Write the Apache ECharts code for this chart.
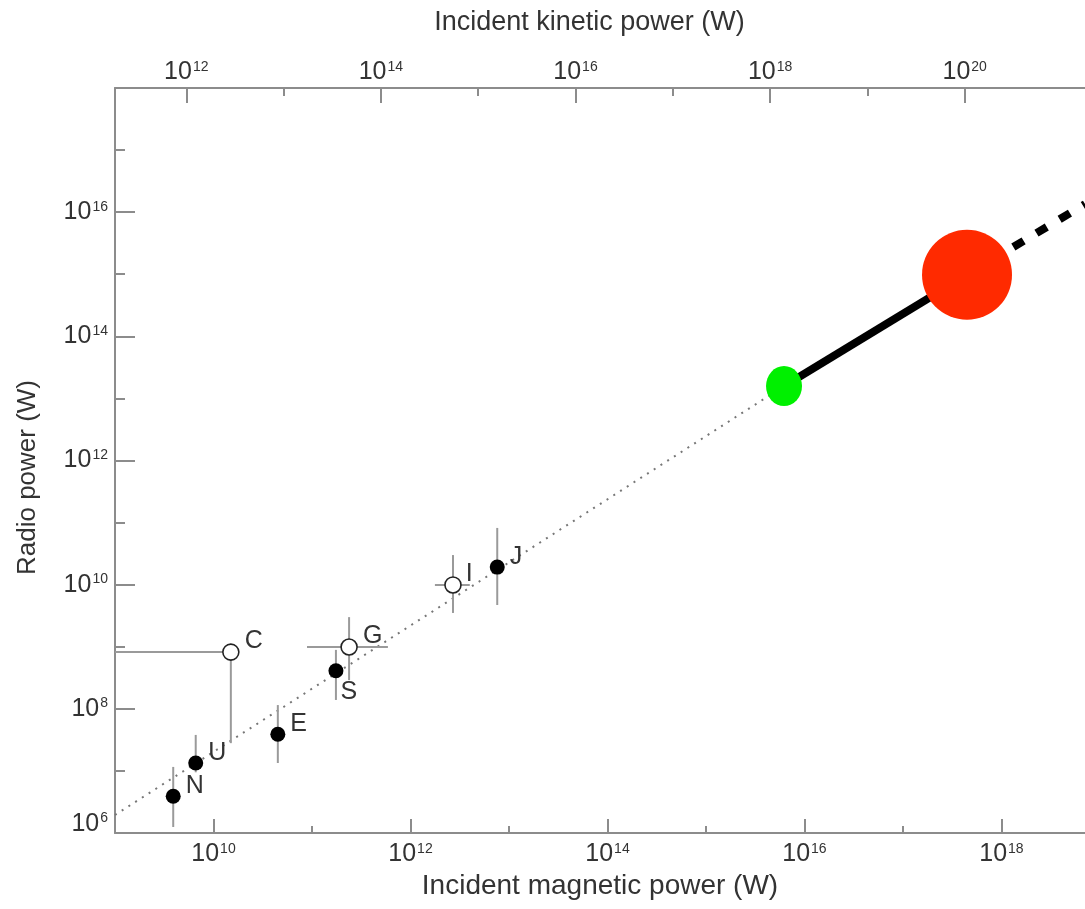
<!DOCTYPE html>
<html>
<head>
<meta charset="utf-8">
<title>Radio-magnetic Bode's law</title>
<script src="https://cdn.jsdelivr.net/npm/echarts@6/dist/echarts.min.js"></script>
<style>
  html, body { margin: 0; padding: 0; background: #fff; }
  #chart { width: 1085px; height: 909px; }
</style>
</head>
<body>
<div id="chart"></div>
<script>
// planets (filled dots): incident magnetic power vs radio power, in W
var planetNames = ['N', 'U', 'E', 'S', 'J'];
var planetMag = [3.9e9, 6.6e9, 4.5e10, 1.75e11, 7.6e12];
var planetRadio = [3.9e6, 1.34e7, 3.9e7, 4.1e8, 1.92e10];
var planetRadioLo = [1.25e6, 9.5e6, 1.34e7, 1.39e8, 4.7e9];
var planetRadioHi = [1.16e7, 3.8e7, 1.15e8, 8.9e8, 8.2e10];

// satellite-magnetosphere systems (open dots)
var moonNames = ['C', 'G', 'I'];
var moonMag = [1.5e10, 2.38e11, 2.7e12];
var moonMagLo = [1e9, 8.9e10, 1.77e12];
var moonMagHi = [1.5e10, 5.9e11, 4.0e12];
var moonRadio = [8.2e8, 9.9e8, 9.9e9];
var moonRadioLo = [2.8e7, 2.9e8, 3.5e9];
var moonRadioHi = [8.2e8, 3.0e9, 3.0e10];

// hot Jupiter range (green = low end, red = high end) and the fitted law
var hotMag = [6.2e15, 4.47e17];
var hotRadio = [1.58e13, 9.8e14];
var fitStart = [1e9, 1.95e6];
var fitEnd = [7.05e18, 1.35e16];

// axis ranges and ticks
var magRange = [1e9, 7.05e18];      // right edge of the picture cuts the axis
var kinRange = [1e11, 1e21];
var radioRange = [1e6, 1e18];
var magTicksMajor = [1e10, 1e12, 1e14, 1e16, 1e18];
var magTicksMinor = [1e11, 1e13, 1e15, 1e17];
var kinTicksMajor = [1e12, 1e14, 1e16, 1e18, 1e20];
var kinTicksMinor = [1e13, 1e15, 1e17, 1e19, 1e21];
var radioTicksMajor = [1e6, 1e8, 1e10, 1e12, 1e14, 1e16, 1e18];
var radioTicksMinor = [1e7, 1e9, 1e11, 1e13, 1e15, 1e17];

var FONT = '"Liberation Sans", Arial, Helvetica, sans-serif';
var TXT = '#333';
var AXC = '#8c8c8c';

var labelOffsets = {
  N: [0, -10], U: [0, -10], E: [0, -10], S: [-8, 21], J: [0, -10],
  C: [0, -11], G: [0, -11], I: [-1, -11]
};

function powLabel(value) {
  var e = Math.round(Math.log10(value));
  return '{b|10}{e|' + e + '}';
}
// lowest radio label sits a little above its tick, clear of the x axis
function radioLabel(value) {
  var e = Math.round(Math.log10(value));
  if (value <= radioRange[0]) return '{low|10}{e|' + e + '}';
  return '{b|10}{e|' + e + '}';
}
var richPow = {
  b: { fontSize: 25, fontFamily: FONT, color: TXT },
  low: { fontSize: 25, fontFamily: FONT, color: TXT, padding: [0, 0, 18, 0] },
  e: { fontSize: 14, fontFamily: FONT, color: TXT, verticalAlign: 'top', padding: [0, 0, 0, 1] }
};

function tickAxis(extra) {
  var base = {
    type: 'log',
    logBase: 10,
    axisLine: { show: false, onZero: false },
    splitLine: { show: false },
    axisTick: { show: false },
    axisLabel: { show: false }
  };
  for (var k in extra) base[k] = extra[k];
  return base;
}

function ticks(len, values) {
  return { show: true, inside: true, length: len, customValues: values, lineStyle: { color: AXC, width: 2 } };
}
var frameLine = { show: true, onZero: false, lineStyle: { color: AXC, width: 2 } };

var errData = [];
for (var i = 0; i < planetNames.length; i++) {
  errData.push([planetMag[i], planetRadio[i], planetMag[i], planetMag[i], planetRadioLo[i], planetRadioHi[i]]);
}
for (var j = 0; j < moonNames.length; j++) {
  errData.push([moonMag[j], moonRadio[j], moonMagLo[j], moonMagHi[j], moonRadioLo[j], moonRadioHi[j]]);
}

function pointData(names, xs, ys) {
  var out = [];
  for (var i = 0; i < names.length; i++) {
    out.push({
      name: names[i],
      value: [xs[i], ys[i]],
      label: { offset: labelOffsets[names[i]] }
    });
  }
  return out;
}

var pointLabel = {
  show: true,
  position: 'right',
  distance: 5,
  formatter: '{b}',
  fontSize: 25,
  fontFamily: FONT,
  color: TXT
};

var option = {
  backgroundColor: '#fff',
  animation: false,
  grid: [
    { left: 115, right: 0, top: 88, bottom: 76 },
    { left: 89, right: 23, top: 88, bottom: 76 }
  ],
  xAxis: [
    tickAxis({
      gridIndex: 0, position: 'bottom', min: magRange[0], max: magRange[1],
      axisTick: ticks(7, magTicksMinor)
    }),
    tickAxis({
      gridIndex: 0, position: 'bottom', min: magRange[0], max: magRange[1],
      axisLine: frameLine,
      axisTick: ticks(14, magTicksMajor),
      axisLabel: { show: true, customValues: magTicksMajor, margin: 9, formatter: powLabel, rich: richPow },
      name: 'Incident magnetic power (W)',
      nameLocation: 'middle',
      nameGap: 36,
      nameTextStyle: { fontSize: 28, fontFamily: FONT, color: TXT }
    }),
    tickAxis({
      gridIndex: 0, position: 'top', min: magRange[0], max: magRange[1],
      axisLine: frameLine
    }),
    tickAxis({
      gridIndex: 1, position: 'top', min: kinRange[0], max: kinRange[1],
      axisTick: ticks(8, kinTicksMinor)
    }),
    tickAxis({
      gridIndex: 1, position: 'top', min: kinRange[0], max: kinRange[1],
      axisTick: ticks(15, kinTicksMajor),
      axisLabel: { show: true, customValues: kinTicksMajor, margin: 3, formatter: powLabel, rich: richPow },
      name: 'Incident kinetic power (W)',
      nameLocation: 'middle',
      nameGap: 52,
      nameTextStyle: { fontSize: 27, fontFamily: FONT, color: TXT, padding: [0, 0, 0, 28] }
    })
  ],
  yAxis: [
    tickAxis({
      gridIndex: 0, position: 'left', min: radioRange[0], max: radioRange[1],
      axisTick: ticks(10, radioTicksMinor)
    }),
    tickAxis({
      gridIndex: 0, position: 'left', min: radioRange[0], max: radioRange[1],
      axisLine: frameLine,
      axisTick: ticks(20, radioTicksMajor),
      axisLabel: { show: true, customValues: radioTicksMajor, margin: 7, formatter: radioLabel, rich: richPow },
      name: 'Radio power (W)',
      nameLocation: 'middle',
      nameGap: 74,
      nameTextStyle: { fontSize: 26, fontFamily: FONT, color: TXT, padding: [0, 34, 0, 0] }
    }),
    { type: 'value', gridIndex: 1, show: false }
  ],
  series: [
    {
      name: 'fit',
      type: 'line',
      xAxisIndex: 0, yAxisIndex: 0,
      data: [fitStart, [hotMag[0], hotRadio[0]]],
      symbol: 'none',
      z: 1,
      lineStyle: { color: '#777', width: 2, type: [2, 6] }
    },
    {
      name: 'hot Jupiters',
      type: 'line',
      xAxisIndex: 0, yAxisIndex: 0,
      data: [[hotMag[0], hotRadio[0]], [hotMag[1], hotRadio[1]]],
      symbol: 'none',
      z: 2,
      lineStyle: { color: '#000', width: 8 }
    },
    {
      name: 'extrapolation',
      type: 'line',
      xAxisIndex: 0, yAxisIndex: 0,
      data: [[hotMag[1], hotRadio[1]], fitEnd],
      symbol: 'none',
      z: 2,
      lineStyle: { color: '#000', width: 8, type: [12, 15], cap: 'butt' }
    },
    {
      name: 'error bars',
      type: 'custom',
      xAxisIndex: 0, yAxisIndex: 0,
      z: 3,
      clip: true,
      data: errData,
      renderItem: function (params, api) {
        var p = api.coord([api.value(0), api.value(1)]);
        var lo = api.coord([api.value(2), api.value(4)]);
        var hi = api.coord([api.value(3), api.value(5)]);
        var st = { stroke: '#9a9a9a', lineWidth: 2 };
        return {
          type: 'group',
          children: [
            { type: 'line', shape: { x1: p[0], y1: lo[1], x2: p[0], y2: hi[1] }, style: st },
            { type: 'line', shape: { x1: lo[0], y1: p[1], x2: hi[0], y2: p[1] }, style: st }
          ]
        };
      }
    },
    {
      name: 'planets',
      type: 'scatter',
      xAxisIndex: 0, yAxisIndex: 0,
      z: 4,
      symbolSize: 15,
      itemStyle: { color: '#000', opacity: 1 },
      label: pointLabel,
      data: pointData(planetNames, planetMag, planetRadio)
    },
    {
      name: 'satellites',
      type: 'scatter',
      xAxisIndex: 0, yAxisIndex: 0,
      z: 4,
      symbolSize: 16,
      itemStyle: { color: '#fff', borderColor: '#222', borderWidth: 1.6, opacity: 1 },
      label: pointLabel,
      data: pointData(moonNames, moonMag, moonRadio)
    },
    {
      name: 'hot Jupiter ends',
      type: 'scatter',
      xAxisIndex: 0, yAxisIndex: 0,
      z: 5,
      data: [
        { value: [hotMag[0], hotRadio[0]], symbolSize: [36, 40], itemStyle: { color: '#00f000', opacity: 1 } },
        { value: [hotMag[1], hotRadio[1]], symbolSize: 90, itemStyle: { color: '#ff2a00', opacity: 1 } }
      ]
    }
  ]
};

var chart = echarts.init(document.getElementById('chart'));
chart.setOption(option);
</script>
</body>
</html>
